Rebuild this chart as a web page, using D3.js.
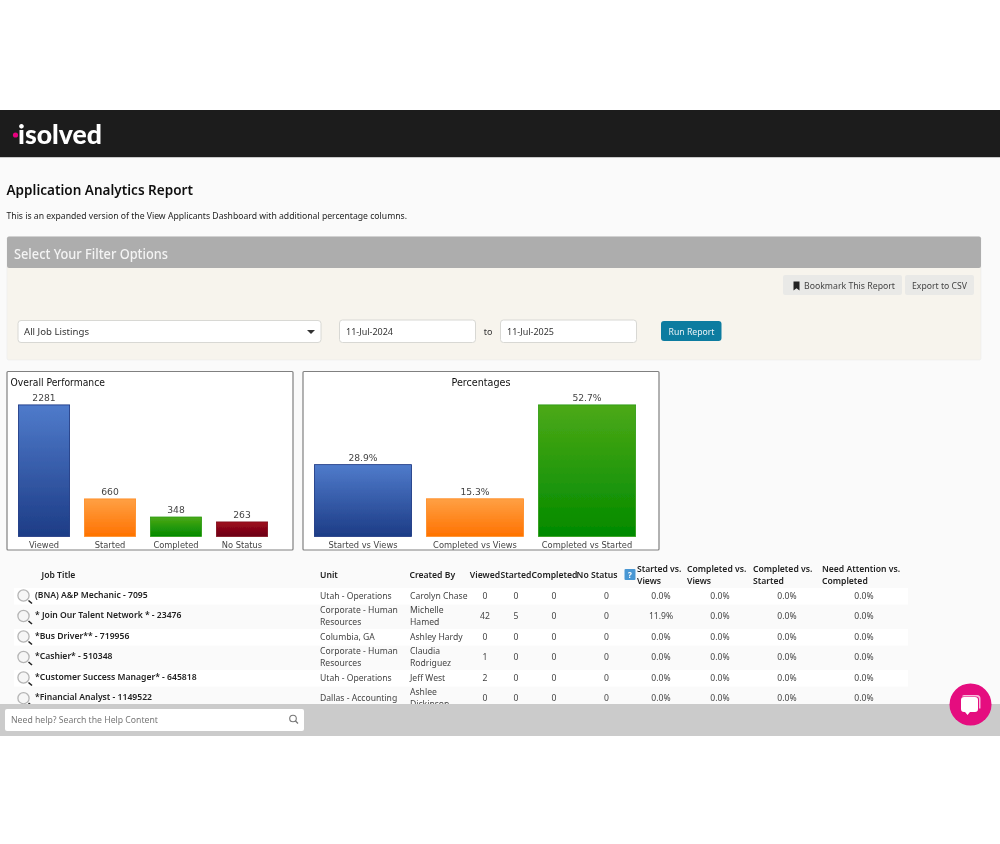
<!DOCTYPE html>
<html><head><meta charset="utf-8">
<script src="https://cdn.jsdelivr.net/npm/d3@7/dist/d3.min.js"></script>
<style>html,body{margin:0;padding:0;background:#fff}svg{display:block}</style>
</head><body><svg id="page" width="1000" height="844"></svg>
<script>
const perfCategories=["Viewed","Started","Completed","No Status"];
const perfValues=[2281,660,348,263];
const pctCategories=["Started vs Views","Completed vs Views","Completed vs Started"];
const pctValues=[28.9,15.3,52.7];
const tableHeaders=["Job Title","Unit","Created By","Viewed","Started","Completed","No Status"];
const ratioHeaders=[["Started vs.","Views"],["Completed vs.","Views"],["Completed vs.","Started"],["Need Attention vs.","Completed"]];
const jobTitles=["(BNA) A&P Mechanic - 7095","* Join Our Talent Network * - 23476","*Bus Driver** - 719956","*Cashier* - 510348","*Customer Success Manager* - 645818","*Financial Analyst - 1149522"];
const units=[["Utah - Operations"],["Corporate - Human","Resources"],["Columbia, GA"],["Corporate - Human","Resources"],["Utah - Operations"],["Dallas - Accounting"]];
const creators=[["Carolyn Chase"],["Michelle","Hamed"],["Ashley Hardy"],["Claudia","Rodriguez"],["Jeff West"],["Ashlee","Dickinson"]];
const viewed=[0,42,0,1,2,0];
const started=[0,5,0,0,0,0];
const completed=[0,0,0,0,0,0];
const noStatus=[0,0,0,0,0,0];
const startedVsViews=["0.0%","11.9%","0.0%","0.0%","0.0%","0.0%"];
const completedVsViews=["0.0%","0.0%","0.0%","0.0%","0.0%","0.0%"];
const completedVsStarted=["0.0%","0.0%","0.0%","0.0%","0.0%","0.0%"];
const attentionVsCompleted=["0.0%","0.0%","0.0%","0.0%","0.0%","0.0%"];
const barThemes=[["#4f7bcb","#1d3c86","#15307e"],["#ffa044","#ff7200","#ff8a20"],["#4ca916","#018a00","#2b9a10"],["#a00a1e","#6b0012","#7d0a18"]];

const UI="'Noto Sans','Open Sans',sans-serif";
const CH="'DejaVu Sans',sans-serif";
const svg=d3.select("#page");
const defs=svg.append("defs");
barThemes.forEach((c,i)=>{
  const g=defs.append("linearGradient").attr("id","grad"+i).attr("x1",0).attr("x2",0).attr("y1",0).attr("y2",1);
  g.append("stop").attr("offset","0").attr("stop-color",c[0]);
  g.append("stop").attr("offset","1").attr("stop-color",c[1]);
});
defs.append("filter").attr("id","soft").append("feGaussianBlur").attr("stdDeviation",0.35);
const root=svg.append("g").attr("filter","url(#soft)");
function rect(x,y,w,h,fill,rx,stroke,sw){
  return root.append("rect").attr("x",x).attr("y",y).attr("width",w).attr("height",h).attr("fill",fill)
    .attr("rx",rx||0).attr("stroke",stroke||"none").attr("stroke-width",sw||0);
}
function text(s,x,y,size,opt){
  opt=opt||{};
  const t=(opt.parent||root).append("text").attr("x",x).attr("y",y).text(s).attr("font-size",size)
    .attr("font-family",opt.font||UI).attr("font-weight",opt.weight||400).attr("fill",opt.fill||"#222")
    .attr("text-anchor",opt.anchor||"start").attr("dominant-baseline","central");
  if(opt.fit) t.attr("textLength",opt.fit).attr("lengthAdjust","spacingAndGlyphs");
  return t;
}
// page frame
rect(0,110,1000,626,"#fafafa");
rect(0,110,1000,47,"#1c1c1c");
rect(0,157,1000,1,"#c8c8c8");
text("isolved",18,134,26,{font:"Lato,sans-serif",weight:900,fill:"#fff",fit:84});
root.append("circle").attr("cx",15.5).attr("cy",135).attr("r",2.6).attr("fill","#e6007e");
text("Application Analytics Report",6.5,188.5,14.5,{weight:600,fill:"#111",fit:186.5});
text("This is an expanded version of the View Applicants Dashboard with additional percentage columns.",6.5,215.5,9.3,{fill:"#222",fit:400.5});
// filter panel
rect(7,237,974,123,"#f7f4ed",2,"#ececec",0.7);
rect(7,236.5,974,31.5,"#adadad",2);
text("Select Your Filter Options",14,252.5,14.5,{weight:500,fill:"#f4f4f4",fit:154});
rect(783,275,119,20,"#e9e9e7",2);
rect(905,275,69,20,"#e9e9e7",2);
root.append("path").attr("d","M793.5 281.5h6v9l-3-2.2-3 2.2z").attr("fill","#222");
text("Bookmark This Report",804,285.5,9.2,{fill:"#444",fit:91});
text("Export to CSV",912,285.5,9.2,{fill:"#444",fit:55});
rect(18,320.5,303,22,"#fff",3,"#d8d8d4",1);
text("All Job Listings",24,331.5,9.7,{fill:"#333",fit:65});
root.append("path").attr("d","M307 330h8l-4 4z").attr("fill","#333");
rect(339.5,320,136,22.5,"#fff",3,"#d8d8d4",1);
text("11-Jul-2024",346,331.5,9,{fill:"#333",fit:47});
text("to",488,331,9,{anchor:"middle",fill:"#333"});
rect(500.5,320,136,22.5,"#fff",3,"#d8d8d4",1);
text("11-Jul-2025",507,331.5,9,{fill:"#333",fit:47});
rect(661,321,60.5,20,"#107ca0",3);
text("Run Report",668.5,331.5,9.2,{fill:"#e8f3f7",fit:46});

// charts
function barChart(cfg){
  const x=d3.scaleBand().domain(cfg.cats).range(cfg.xr).paddingInner(cfg.pad).paddingOuter(0);
  const y=d3.scaleLinear().domain([0,cfg.max]).range([536.8,404.5]);
  rect(cfg.box[0],371.5,cfg.box[1]-cfg.box[0],178.5,"#fff",1,"#808080",1.2);
  const g=root.append("g");
  cfg.vals.forEach((v,i)=>{
    g.append("rect").attr("x",x(cfg.cats[i])+.4).attr("y",y(v)+.4)
      .attr("width",x.bandwidth()-.8).attr("height",y(0)-y(v)-.8)
      .attr("fill","url(#grad"+i+")").attr("stroke",barThemes[i][2]).attr("stroke-width",.8);
    text(cfg.fmt(v),x(cfg.cats[i])+x.bandwidth()/2,y(v)-6.7,9.2,{parent:g,font:CH,anchor:"middle",fill:"#444"});
  });
  const ax=g.append("g").attr("transform","translate(0,536.8)").call(d3.axisBottom(x).tickSize(0).tickPadding(5));
  ax.select(".domain").remove();
  ax.selectAll("text").attr("font-family",CH).attr("font-size",8.3).attr("fill","#444");
}
barChart({cats:perfCategories,vals:perfValues,max:2281,xr:[18,268],pad:14/66,box:[7,293],fmt:d=>d});
barChart({cats:pctCategories,vals:pctValues,max:52.7,xr:[314,636],pad:14/112,box:[303,659],fmt:d=>d.toFixed(1)+"%"});
text("Overall Performance",10.5,382,9.6,{font:CH,fill:"#111",fit:94.5});
text("Percentages",481,382.5,9.6,{font:CH,anchor:"middle",fill:"#111"});

// table
const rowY=[595.5,616,636.5,657,677.5,698.2];
const hdr={weight:600,fill:"#222"};
text(tableHeaders[0],41.5,575,8.6,hdr);
text(tableHeaders[1],320,575,8.6,hdr);
text(tableHeaders[2],409.5,575,8.6,hdr);
[[tableHeaders[3],485],[tableHeaders[4],516],[tableHeaders[5],554.5],[tableHeaders[6],597]].forEach(d=>
  text(d[0],d[1],575,8.6,Object.assign({anchor:"middle"},hdr)));
rect(624.5,569,11,11,"#4a97d3",1);
text("?",630,574.5,8,{anchor:"middle",weight:700,fill:"#fff"});
const ratioX=[637,687,753,822];
ratioHeaders.forEach((h,i)=>h.forEach((t,j)=>text(t,ratioX[i],568.7+j*12.5,8.6,hdr)));
rowY.forEach((y,i)=>{ if(i%2===0) rect(14,y-7.5,894,16.5,"#fff"); });
const colX=[485,516,554,606.5,661,720,787,864];
rowY.forEach((y,i)=>{
  root.append("circle").attr("cx",23.5).attr("cy",y).attr("r",5.6).attr("fill","#f6f6f6").attr("stroke","#b4b4b4").attr("stroke-width",1.3);
  root.append("line").attr("x1",28.5).attr("y1",y+5).attr("x2",32).attr("y2",y+8).attr("stroke","#222").attr("stroke-width",1.6);
  text(jobTitles[i],35,y-1,8.6,{weight:600,fill:"#222"});
  const cell=(lines,x)=>lines.forEach((t,j)=>text(t,x,y+(j-(lines.length-1)/2)*12.5,8.6,{fill:"#444"}));
  cell(units[i],320);
  cell(creators[i],410);
  [viewed[i],started[i],completed[i],noStatus[i],startedVsViews[i],completedVsViews[i],completedVsStarted[i],attentionVsCompleted[i]]
    .forEach((v,k)=>text(v,colX[k],y,8.6,{anchor:"middle",fill:"#444"}));
});
// footer
rect(0,704,1000,32,"#cbcbcb");
rect(5,709,299,22,"#fff",2);
text("Need help? Search the Help Content",11,720,8.6,{fill:"#777",fit:147});
root.append("circle").attr("cx",293).attr("cy",718.5).attr("r",3.3).attr("fill","none").attr("stroke","#777").attr("stroke-width",1.1);
root.append("line").attr("x1",295.5).attr("y1",721).attr("x2",298).attr("y2",723.5).attr("stroke","#777").attr("stroke-width",1.2);
root.append("circle").attr("cx",970.5).attr("cy",704.5).attr("r",21).attr("fill","#e5097f");
root.append("path").attr("d","M962 697a2 2 0 0 1 2-2h13a3.5 3.5 0 0 1 3.5 3.5v10h-1.5v-9a3 3 0 0 0-3-3H962z").attr("fill","#f6bddb");
root.append("path").attr("d","M961 700a3 3 0 0 1 3-3h11a3 3 0 0 1 3 3v9a3 3 0 0 1-3 3h-5l-2.5 3-2.5-3h-1a3 3 0 0 1-3-3z").attr("fill","#fff");
</script></body></html>
